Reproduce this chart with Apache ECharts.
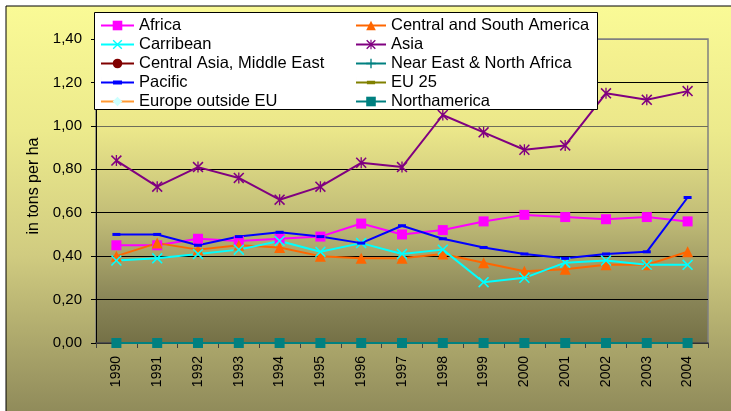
<!DOCTYPE html>
<html>
<head>
<meta charset="utf-8">
<script src="https://cdn.jsdelivr.net/npm/echarts@6/dist/echarts.min.js"></script>
<style>
  html, body { margin: 0; padding: 0; background: #fff; }
  #chart { width: 731px; height: 411px; }
</style>
</head>
<body>
<div id="chart"></div>
<script>
// data
var years = ['1990', '1991', '1992', '1993', '1994', '1995', '1996', '1997',
    '1998', '1999', '2000', '2001', '2002', '2003', '2004'];
var africa = [0.45, 0.45, 0.48, 0.47, 0.48, 0.49, 0.55, 0.50, 0.52, 0.56, 0.59, 0.58, 0.57, 0.58, 0.56];
var centralSouthAmerica = [0.40, 0.46, 0.43, 0.45, 0.44, 0.40, 0.39, 0.39, 0.41, 0.37, 0.33, 0.34, 0.36, 0.36, 0.42];
var carribean = [0.38, 0.39, 0.41, 0.43, 0.47, 0.42, 0.46, 0.41, 0.43, 0.28, 0.30, 0.37, 0.38, 0.36, 0.36];
var asia = [0.84, 0.72, 0.81, 0.76, 0.66, 0.72, 0.83, 0.81, 1.05, 0.97, 0.89, 0.91, 1.15, 1.12, 1.16];
var centralAsia = [];
var nearEast = [];
var pacific = [0.50, 0.50, 0.45, 0.49, 0.51, 0.49, 0.46, 0.54, 0.48, 0.44, 0.41, 0.39, 0.41, 0.42, 0.67];
var eu25 = [];
var europeOutside = [];
var northamerica = [0, 0, 0, 0, 0, 0, 0, 0, 0, 0, 0, 0, 0, 0, 0];
var yTicks = [0, 0.2, 0.4, 0.6, 0.8, 1.0, 1.2, 1.4];

var FONT = 'Liberation Sans, Arial, sans-serif';
// marker shapes
var crossPath = 'path://M0,1L1,0L5,4L9,0L10,1L6,5L10,9L9,10L5,6L1,10L0,9L4,5Z';
var starPath = 'path://M0,1L1,0L5,4L9,0L10,1L6,5L10,9L9,10L5,6L1,10L0,9L4,5Z M4.4,0L5.6,0L5.6,10L4.4,10Z';
var plusPath = 'path://M4.3,0L5.7,0L5.7,4.3L10,4.3L10,5.7L5.7,5.7L5.7,10L4.3,10L4.3,5.7L0,5.7L0,4.3L4.3,4.3Z';
// legend icon for the dash-marker series (line + small bar)
var dashIcon = 'path://M0,5L33,5L33,7L0,7Z M12,4L21,4L21,8L12,8Z M0,0L0.01,0L0.01,12L0,12Z';

function mk(name, data, color, symbol, size, fill) {
    return {
        name: name,
        type: 'line',
        data: data,
        symbol: symbol,
        symbolSize: size,
        showSymbol: true,
        lineStyle: { color: color, width: 2 },
        itemStyle: { color: fill || color },
        emphasis: { disabled: true },
        animation: false
    };
}

var legendText = { fontSize: 16.5, color: '#000', fontFamily: FONT };

var chart = echarts.init(document.getElementById('chart'));
var option = {
    backgroundColor: '#ffffff',
    animation: false,
    textStyle: { fontFamily: FONT },
    graphic: [
        {
            type: 'rect', z: -10, silent: true,
            shape: { x: 6, y: 6, width: 800, height: 500 },
            style: {
                fill: {
                    type: 'linear', x: 0, y: 0, x2: 0, y2: 1, global: false,
                    colorStops: [
                        { offset: 0, color: '#fafa96' },
                        { offset: 0.25, color: '#ecea8c' },
                        { offset: 0.5, color: '#d0cb80' },
                        { offset: 0.75, color: '#9c9762' },
                        { offset: 1, color: '#6a6642' }
                    ]
                },
                stroke: '#000', lineWidth: 1
            }
        },
        {
            type: 'rect', z: 20, silent: true,
            shape: { x: 94.5, y: 12.5, width: 503, height: 97 },
            style: { fill: '#ffffff', stroke: '#000', lineWidth: 1 }
        }
    ],
    legend: [
        {
            z: 30, orient: 'vertical', left: 100, top: 17, padding: 0,
            itemWidth: 33, itemHeight: 12, itemGap: 2,
            textStyle: legendText,
            data: ['Africa', 'Carribean', 'Central Asia, Middle East',
                { name: 'Pacific', icon: dashIcon }, 'Europe outside EU']
        },
        {
            z: 30, orient: 'vertical', left: 355, top: 17, padding: 0,
            itemWidth: 30, itemHeight: 12, itemGap: 2,
            textStyle: legendText,
            data: ['Central and South America', 'Asia', 'Near East & North Africa',
                { name: 'EU 25', icon: dashIcon }, 'Northamerica']
        }
    ],
    grid: {
        left: 96, right: 23, top: 39, bottom: 68,
        show: true,
        borderColor: '#808080', borderWidth: 1.5,
        backgroundColor: {
            type: 'linear', x: 0, y: 0, x2: 0, y2: 1,
            colorStops: [
                { offset: 0, color: '#f6f390' },
                { offset: 0.3, color: '#ebe78a' },
                { offset: 0.6, color: '#bfba76' },
                { offset: 0.85, color: '#8a8658' },
                { offset: 1, color: '#747046' }
            ]
        }
    },
    xAxis: {
        type: 'category',
        data: years,
        boundaryGap: true,
        axisLine: { lineStyle: { color: '#404040', width: 1.5 } },
        axisTick: { show: true, length: 5, lineStyle: { color: '#404040' } },
        axisLabel: { rotate: 90, margin: 13, fontSize: 14, color: '#000', fontFamily: FONT },
        splitLine: { show: false }
    },
    yAxis: {
        type: 'value',
        min: yTicks[0], max: yTicks[yTicks.length - 1], interval: 0.2,
        name: 'in tons per ha',
        nameLocation: 'middle',
        nameGap: 48,
        nameTextStyle: { fontSize: 16, color: '#000', fontFamily: FONT, padding: [0, 0, 0, 10] },
        axisLine: { show: true, lineStyle: { color: '#000' } },
        axisTick: { show: true, length: 5, lineStyle: { color: '#000' } },
        axisLabel: {
            fontSize: 15, color: '#000', margin: 14, fontFamily: FONT,
            formatter: function (v) { return v.toFixed(2).replace('.', ','); }
        },
        splitLine: {
            lineStyle: {
                color: ['#000', '#000', '#000', '#000', '#000', '#6e6e5a', '#000', '#808080'],
                width: 1
            }
        }
    },
    series: [
        mk('Africa', africa, '#ff00ff', 'rect', 10),
        mk('Central and South America', centralSouthAmerica, '#ff6600', 'triangle', 11),
        mk('Carribean', carribean, '#00ffff', crossPath, 11),
        mk('Asia', asia, '#800080', starPath, 11),
        mk('Central Asia, Middle East', centralAsia, '#800000', 'circle', 10),
        mk('Near East & North Africa', nearEast, '#008080', plusPath, 10),
        mk('Pacific', pacific, '#0000ff', 'rect', [8, 3]),
        mk('EU 25', eu25, '#808000', 'rect', [8, 3]),
        mk('Europe outside EU', europeOutside, '#ff9933', 'diamond', 10, '#ccffff'),
        mk('Northamerica', northamerica, '#008080', 'rect', 10)
    ]
};
chart.setOption(option);
</script>
</body>
</html>
